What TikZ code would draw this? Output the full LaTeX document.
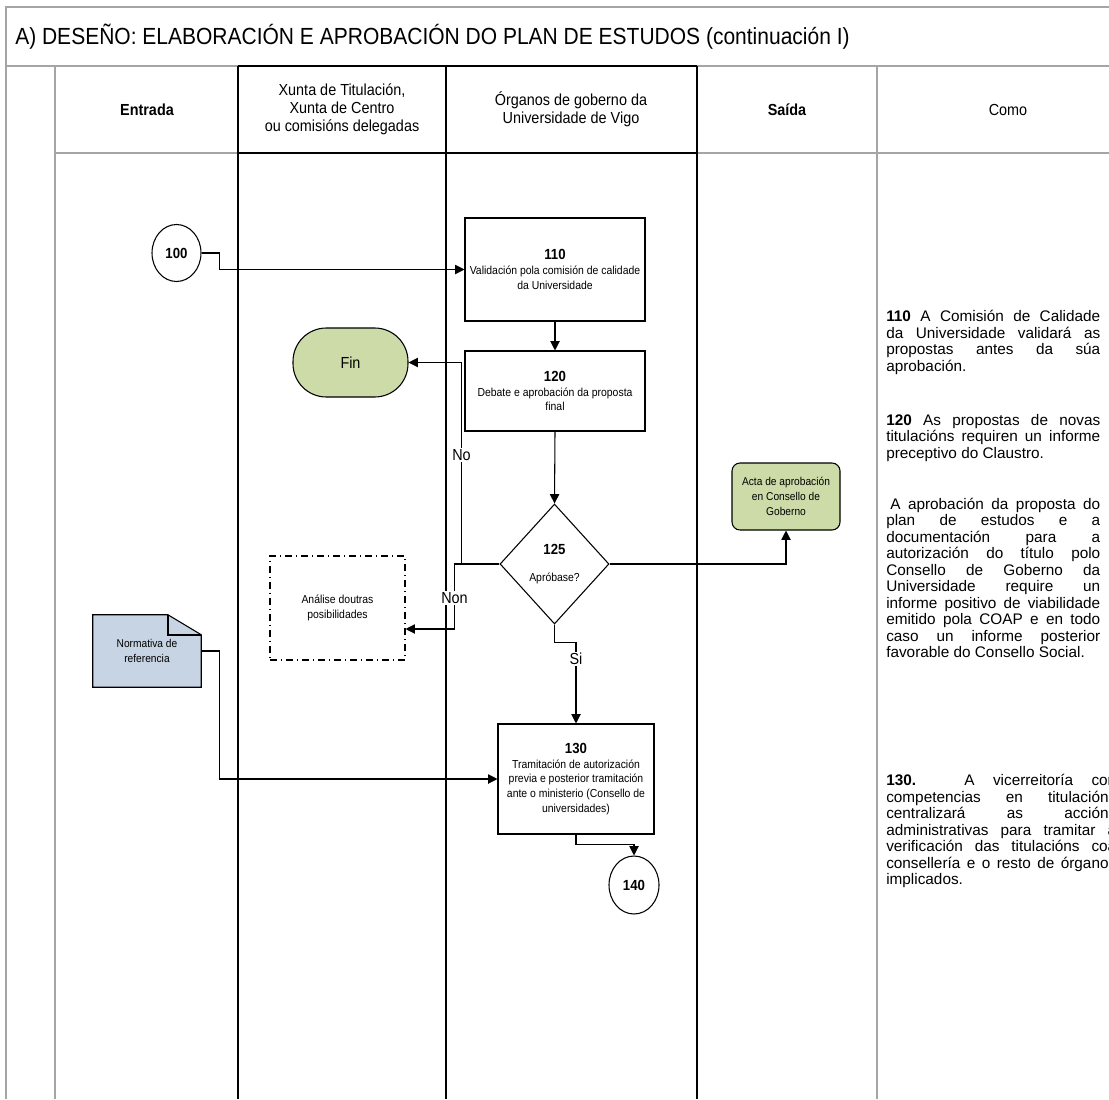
\documentclass[tikz,border=0pt]{standalone}
\usepackage{fontspec}
\setmainfont{Liberation Sans}
\newfontfamily\narrowfont{Liberation Sans}[FakeStretch=0.9]
\usetikzlibrary{arrows.meta,shapes,backgrounds}

\definecolor{fingreen}{RGB}{204,219,168}
\definecolor{docblue}{RGB}{198,212,228}
\definecolor{gridgray}{RGB}{165,165,165}

\newlength\comow \setlength\comow{160.5pt}
\newlength\comowb \setlength\comowb{172.5pt}
\newcommand{\jline}[1]{\makebox[\comow][s]{#1}}
\newcommand{\jlineb}[1]{\makebox[\comowb][s]{#1}}
\newcommand{\stepnum}[1]{{\bfseries\fontsize{11}{13}\selectfont #1}}

\tikzset{
  lane/.style={line width=0.9pt},
  grid/.style={gridgray, line width=1pt},
  hdr/.style={align=center, font=\narrowfont\fontsize{12}{13.5}\selectfont},
  procbox/.style={draw, fill=white, line width=0.8pt, align=center, inner sep=1pt, font=\narrowfont\fontsize{8.7}{11}\selectfont},
  connector/.style={draw, ellipse, fill=white, line width=0.8pt, inner sep=0pt, font=\narrowfont\bfseries\fontsize{11}{13}\selectfont},
  flow/.style={line width=0.8pt, -{Triangle[length=7pt,width=7pt]}},
  lbl/.style={fill=white, inner sep=1pt, font=\narrowfont\fontsize{12}{14}\selectfont},
  como/.style={align=left, inner sep=0pt, anchor=north west, font=\fontsize{11.5}{12.4}\selectfont}
}

\begin{document}
\begin{tikzpicture}[x=0.75pt, y=-0.75pt]
\useasboundingbox (0,0) rectangle (1109,1099);

% frame and lanes
\draw[grid] (6,1099) -- (6,7) -- (1109,7);
\draw[grid] (6,66) -- (1109,66);
\draw[grid] (55,66) -- (55,1099);
\draw[grid] (55,153) -- (1109,153);
\draw[grid] (877,66) -- (877,1099);
\draw[lane] (238,66) -- (697,66) (238,153) -- (697,153);
\foreach \x in {238,446,697} \draw[lane] (\x,66) -- (\x,1099);

\node[anchor=west, inner sep=0pt, font=\narrowfont\fontsize{17.5}{20}\selectfont] (title) at (15,37) {A) DESEÑO: ELABORACIÓN E APROBACIÓN DO PLAN DE ESTUDOS (continuación I)};

% headers
\node[hdr] (hentrada) at (147,110) {\bfseries Entrada};
\node[hdr] (hxunta) at (342,109) {Xunta de Titulación,\\Xunta de Centro\\ou comisións delegadas};
\node[hdr] (horganos) at (571,109) {Órganos de goberno da\\Universidade de Vigo};
\node[hdr] (hsaida) at (787,110) {\bfseries Saída};
\node[hdr] (hcomo) at (1008,110) {Como};

% flow
\node[connector, minimum width=36.75pt, minimum height=42.75pt] (c100) at (176.5,253) {100};
\node[procbox, minimum width=135pt, minimum height=77.25pt] (p110) at (555,269.5) {\stepnum{110}\\Validación pola comisión de calidade\\da Universidade};
\node[procbox, minimum width=135pt, minimum height=60pt] (p120) at (555,391) {\stepnum{120}\\Debate e aprobación da proposta\\final};
\node[draw, fill=fingreen, line width=0.8pt, rounded corners=25pt, minimum width=86.25pt, minimum height=51.75pt, font=\narrowfont\fontsize{12}{14}\selectfont] (fin) at (350.5,362.5) {Fin};
\node[procbox, diamond, inner sep=0pt, minimum width=81.75pt, minimum height=90pt] (d125) at (554.5,564) {\stepnum{125}\\[9pt]Apróbase?};
\node[procbox, fill=none, dash pattern=on 5pt off 3pt on 1pt off 3pt, minimum width=101.25pt, minimum height=78pt] (analise) at (337.5,608) {Análise doutras\\posibilidades};
\node[procbox, fill=fingreen, rounded corners=6pt, font=\narrowfont\fontsize{8.5}{11}\selectfont, minimum width=81pt, minimum height=50.25pt] (acta) at (786,496.5) {Acta de aprobación\\en Consello de\\Goberno};
\node[align=center, minimum width=81pt, minimum height=54pt, inner sep=0pt, font=\narrowfont\fontsize{8.5}{11}\selectfont] (norm) at (147,651) {Normativa de\\referencia};
\node[procbox, minimum width=117pt, minimum height=82.5pt] (p130) at (576,779) {\stepnum{130}\\Tramitación de autorización\\previa e posterior tramitación\\ante o ministerio (Consello de\\universidades)};
\node[connector, minimum width=37.5pt, minimum height=43.5pt] (c140) at (634,885) {140};

\begin{scope}[on background layer]
\draw[fill=docblue, line width=0.8pt] (norm.south west) -- (norm.north west) -- ([xshift=-25pt]norm.north east) -- ([yshift=-15pt]norm.north east) -- (norm.south east) -- cycle;
\draw[line width=1.2pt] ([xshift=-25pt]norm.north east) -- ([xshift=-25pt,yshift=-15pt]norm.north east) -- ([yshift=-15pt]norm.north east);
\end{scope}

\draw[flow] (c100.east) -- ++(18,0) |- (p110.west);
\draw[flow] (p110.south) -- (p120.north);
\draw[flow] (p120.south) -- (d125.north);
\draw[flow] (d125.west) -- ++(-38,0) |- node[lbl, pos=0.27] {No} (fin.east);
\draw[flow] (d125.west) -- ++(-45,0) |- node[lbl, pos=0.26] {Non} ([yshift=-15.75pt]analise.east);
\draw[flow] (d125.east) -| (acta.south);
\draw[flow] (d125.south) -- ++(0,18) -| node[lbl, pos=0.6] {Si} (p130.north);
\draw[flow] (norm.east) -- ++(18,0) |- (p130.west);
\draw[flow] (p130.south) -- ++(0,10) -| (c140.north);

% como column
\node[como] (t110) at (886,310) {\jline{\textbf{110} A Comisión de Calidade}\\\jline{da Universidade validará as}\\\jline{propostas antes da súa}\\aprobación.};
\node[como] (t120) at (886,414) {\jline{\textbf{120} As propostas de novas}\\\jline{titulacións requiren un informe}\\preceptivo do Claustro.};
\node[como] (tcons) at (886,497.5) {\jline{\hspace{3pt}A aprobación da proposta do}\\\jline{plan de estudos e a}\\\jline{documentación para a}\\\jline{autorización do título polo}\\\jline{Consello de Goberno da}\\\jline{Universidade require un}\\\jline{informe positivo de viabilidade}\\\jline{emitido pola COAP e en todo}\\\jline{caso un informe posterior}\\favorable do Consello Social.};
\node[como] (t130) at (886,774) {\jlineb{\textbf{130.} A vicerreitoría con}\\\jlineb{competencias en titulacións}\\\jlineb{centralizará as accións}\\\jlineb{administrativas para tramitar a}\\\jlineb{verificación das titulacións coa}\\\jlineb{consellería e o resto de órganos}\\implicados.};
\end{tikzpicture}
\end{document}
